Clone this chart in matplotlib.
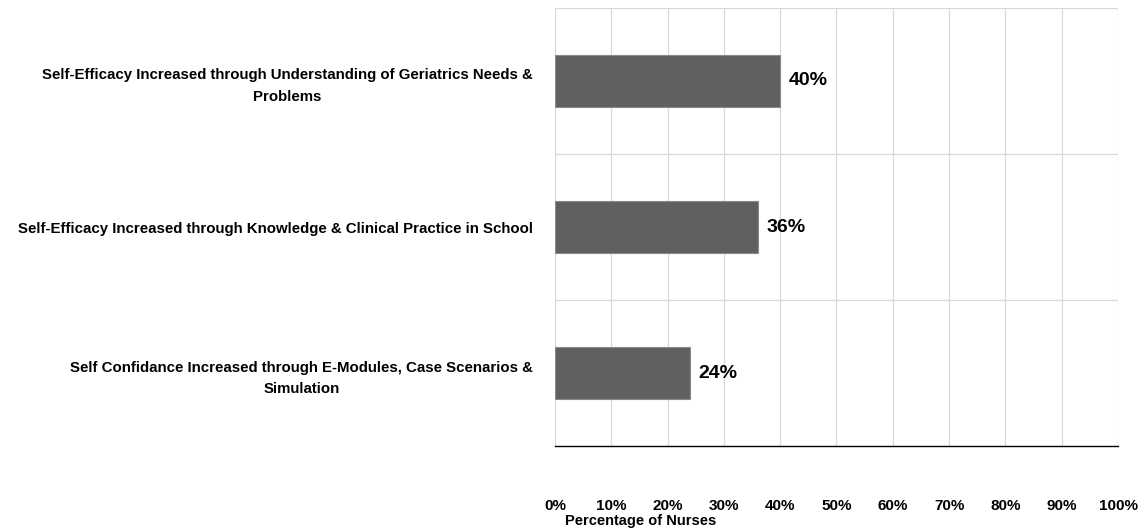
import matplotlib.pyplot as plt
import numpy as np

plt.rcParams['font.family'] = ['Liberation Sans', 'DejaVu Sans']

categories = ['Self-Efficacy Increased through Understanding of Geriatrics Needs &\nProblems',
              'Self-Efficacy Increased through Knowledge & Clinical Practice in School',
              'Self Confidance Increased through E-Modules, Case Scenarios &\nSimulation']
values = [40, 36, 24]
xticks = np.arange(0, 101, 10)

fig = plt.figure(figsize=(11.48, 5.31), dpi=100)
ax = fig.add_axes([0.4834, 0.160, 0.4905, 0.825])

y = np.arange(len(categories))[::-1]
ax.barh(y, values, height=0.36, color='#606060', edgecolor='#8a8a8a', linewidth=0.8, zorder=3)
for yi, v in zip(y, values):
    ax.text(v + 1.5, yi, f'{v}%', va='center', ha='left', fontsize=14, fontweight='bold', zorder=4)

ax.set_xlim(0, 100)
ax.set_ylim(-0.5, 2.5)
ax.set_xticks(xticks)
ax.set_xticklabels([f'{t}%' for t in xticks], fontsize=11, fontweight='bold')
ax.set_yticks(y)
ax.set_yticklabels(categories, fontsize=10.8, fontweight='bold', multialignment='center',
                   linespacing=1.7)
ax.tick_params(axis='x', length=0, pad=38)
ax.tick_params(axis='y', length=0, pad=16)

# grid: vertical lines at ticks, horizontal separators between categories
ax.grid(axis='x', color='#d9d9d9', linewidth=0.9, zorder=0)
for b in [0.5, 1.5, 2.5]:
    ax.axhline(b, color='#d9d9d9', linewidth=0.9, zorder=0)

for s in ['top', 'right', 'left']:
    ax.spines[s].set_visible(False)
ax.spines['bottom'].set_color('black')
ax.spines['bottom'].set_linewidth(1.0)

fig.text(565 / 1148, 1 - 521 / 531, 'Percentage of Nurses', fontsize=10.5, fontweight='bold',
         ha='left', va='center')

fig.savefig('out.png', dpi=100)
